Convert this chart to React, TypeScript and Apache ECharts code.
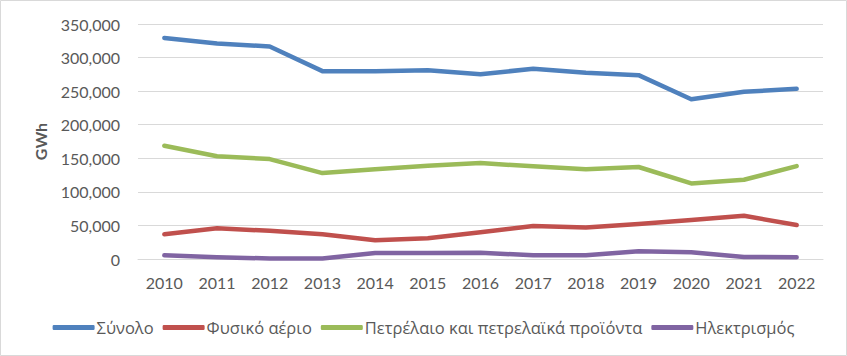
import React, { useEffect, useRef } from "react";
import * as echarts from "echarts";

const years = ["2010", "2011", "2012", "2013", "2014", "2015", "2016", "2017", "2018", "2019", "2020", "2021", "2022"];
const total = [329300, 321000, 316500, 279800, 279800, 281000, 275000, 283500, 277500, 273800, 238000, 249000, 253400];
const naturalGas = [36700, 45700, 42000, 36700, 27800, 30800, 39700, 49000, 47000, 52000, 58000, 64400, 50600];
const oil = [168600, 153000, 148800, 128000, 133500, 139000, 142900, 138000, 133500, 137000, 112600, 118000, 138400];
const electricity = [5500, 2500, 800, 800, 9000, 9000, 9400, 5500, 5500, 11500, 9900, 3000, 2500];

const seriesNames = ["Σύνολο", "Φυσικό αέριο", "Πετρέλαιο και πετρελαϊκά προϊόντα", "Ηλεκτρισμός"];
const colors = ["#4F81BD", "#C0504D", "#9BBB59", "#8064A2"];

export default function App() {
  const ref = useRef<HTMLDivElement>(null);
  useEffect(() => {
    if (!ref.current) return;
    const chart = echarts.init(ref.current, undefined, { renderer: "svg" });
    const font = "Lato";
    const data = [total, naturalGas, oil, electricity];
    chart.setOption({
      animation: false,
      backgroundColor: "#ffffff",
      color: colors,
      textStyle: { fontFamily: font },
      graphic: [
        {
          type: "rect",
          shape: { x: 0.5, y: 0.5, width: 846, height: 355 },
          style: { fill: "none", stroke: "#d9d9d9", lineWidth: 1 },
          silent: true,
        },
      ],
      grid: { left: 138, right: 24, top: 24, bottom: 97 },
      legend: {
        top: 314,
        left: "center",
        icon: "roundRect",
        itemWidth: 42,
        itemHeight: 5,
        itemGap: 9,
        textStyle: { fontFamily: "Open Sans", fontSize: 16.5, color: "#595959", padding: [0, 0, 0, -3] },
        data: seriesNames,
      },
      xAxis: {
        type: "category",
        data: years,
        boundaryGap: true,
        axisTick: { show: false },
        axisLine: { lineStyle: { color: "#d9d9d9", width: 1 } },
        axisLabel: { color: "#595959", fontSize: 16, margin: 15, fontFamily: font },
      },
      yAxis: {
        type: "value",
        min: 0,
        max: 350000,
        interval: 50000,
        name: "GWh",
        nameLocation: "middle",
        nameGap: 90,
        nameTextStyle: { color: "#595959", fontSize: 16, fontWeight: "bold", fontFamily: font },
        axisLine: { show: false },
        axisTick: { show: false },
        axisLabel: {
          color: "#595959",
          fontSize: 16,
          margin: 18,
          fontFamily: font,
          formatter: (v: number) => v.toLocaleString("en-US"),
        },
        splitLine: { lineStyle: { color: "#d9d9d9", width: 1 } },
      },
      series: seriesNames.map((name, i) => ({
        name,
        type: "line",
        data: data[i],
        symbol: "none",
        showSymbol: false,
        lineStyle: { width: 4.5, color: colors[i], cap: "round", join: "round" },
        itemStyle: { color: colors[i] },
        z: 10 - i,
      })),
    });
    return () => chart.dispose();
  }, []);
  return (
    <div
      ref={ref}
      style={{ position: "absolute", left: 0, top: 0, width: 847, height: 356 }}
    />
  );
}
